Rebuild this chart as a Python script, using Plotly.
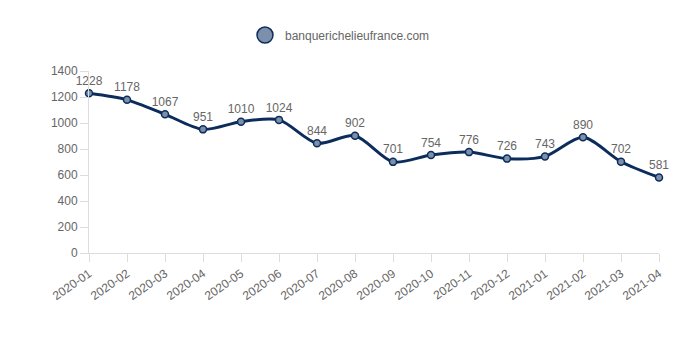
import plotly.graph_objects as go

# Monthly counts
months = ["2020-01", "2020-02", "2020-03", "2020-04", "2020-05", "2020-06",
          "2020-07", "2020-08", "2020-09", "2020-10", "2020-11", "2020-12",
          "2021-01", "2021-02", "2021-03", "2021-04"]
counts = [1228, 1178, 1067, 951, 1010, 1024, 844, 902, 701, 754, 776, 726,
          743, 890, 702, 581]
series_name = "banquerichelieufrance.com"
y_ticks = [0, 200, 400, 600, 800, 1000, 1200, 1400]

line_color = "#0c2d5c"
fill_color = "#7d90ab"
text_color = "#666666"
axis_color = "#dddddd"

fig = go.Figure()
fig.add_trace(go.Scatter(
    x=months, y=counts,
    mode="lines+markers+text",
    line=dict(color=line_color, width=3, shape="spline", smoothing=0.8),
    marker=dict(size=7, color=fill_color, line=dict(color=line_color, width=1.5)),
    text=[str(v) for v in counts],
    textposition="top center",
    textfont=dict(family="Arial, Liberation Sans, sans-serif", size=12, color=text_color),
    cliponaxis=False,
    showlegend=False,
))
# Legend entry: a plain circle
fig.add_trace(go.Scatter(
    x=[None], y=[None], mode="markers", name=series_name,
    marker=dict(size=16, color=fill_color, line=dict(color=line_color, width=1.5)),
))

fig.update_layout(
    width=680, height=340,
    margin=dict(l=89, r=21, t=71, b=87),
    paper_bgcolor="white", plot_bgcolor="white",
    font=dict(family="Arial, Liberation Sans, sans-serif", size=12, color=text_color),
    showlegend=True,
    legend=dict(orientation="h", xref="container", yref="container",
                x=0.5, xanchor="center", y=0.897, yanchor="middle",
                font=dict(size=12, color=text_color),
                itemsizing="trace"),
    xaxis=dict(type="category", range=[0, 15], showgrid=False,
               showline=True, linecolor=axis_color, linewidth=1,
               ticks="outside", ticklen=8, tickcolor=axis_color,
               tickangle=-35, tickfont=dict(size=12, color=text_color),
               zeroline=False),
    yaxis=dict(range=[0, 1400], tickvals=y_ticks, showgrid=False,
               showline=True, linecolor=axis_color, linewidth=1,
               ticks="outside", ticklen=8, tickcolor=axis_color,
               tickfont=dict(size=12, color=text_color), zeroline=False),
)

fig.write_html("out.html")
